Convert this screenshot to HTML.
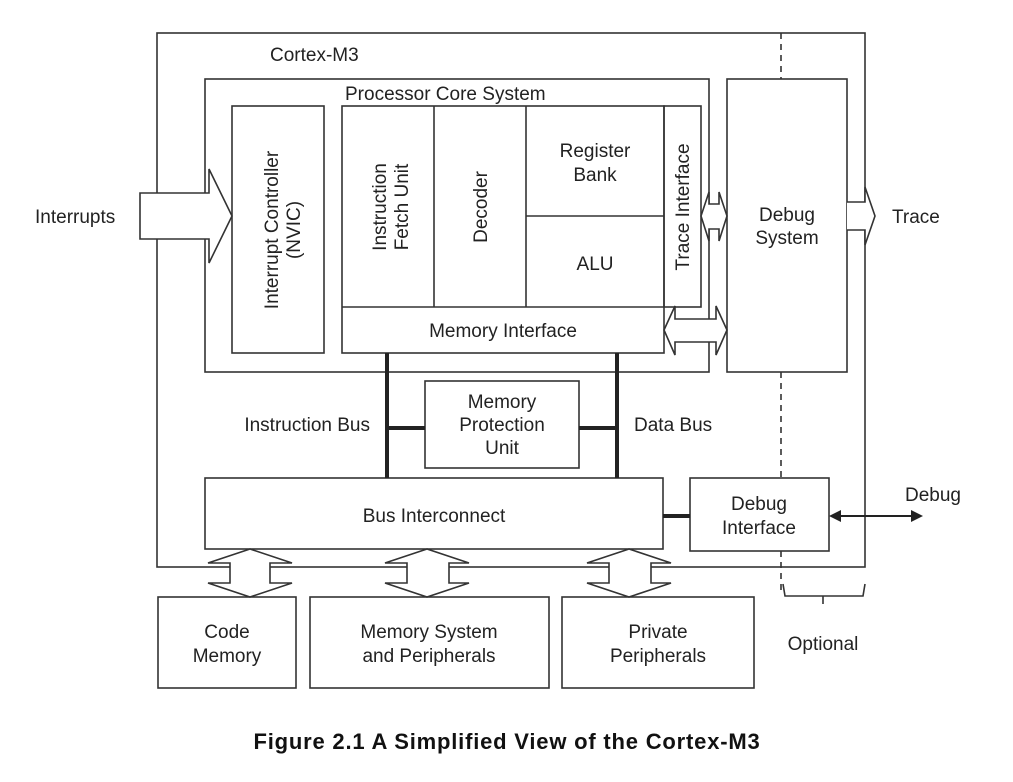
<!DOCTYPE html>
<html><head><meta charset="utf-8"><style>
body{margin:0;background:#fff}
svg text{font-family:"Liberation Sans",Arial,sans-serif;font-size:19px;fill:#222}
</style></head><body>
<svg width="1013" height="777" viewBox="0 0 1013 777" xmlns="http://www.w3.org/2000/svg">
<g fill="none" stroke="#333" stroke-width="1.6">
<rect x="157" y="33" width="708" height="534"/>
<rect x="205" y="79" width="504" height="293" fill="#fff"/>
<rect x="232" y="106" width="92" height="247"/>
<rect x="342" y="106" width="322" height="247"/>
<line x1="342" y1="307" x2="664" y2="307"/>
<line x1="434" y1="106" x2="434" y2="307"/>
<line x1="526" y1="106" x2="526" y2="307"/>
<line x1="526" y1="216" x2="664" y2="216"/>
<rect x="664" y="106" width="37" height="201"/>
<rect x="727" y="79" width="120" height="293" fill="#fff"/>
<g stroke-dasharray="6,5"><line x1="781" y1="33" x2="781" y2="79"/><line x1="781" y1="372" x2="781" y2="478"/><line x1="781" y1="551" x2="781" y2="592"/></g>
<path d="M140 193 H209 V169 L232 216 L209 263 V239 H140 Z" fill="#fff"/>
<path d="M701 216 L709 192 V204 H719 V192 L727 216 L719 241 V229 H709 V241 Z" fill="#fff"/>
<path d="M664 330 L675 306 V319 H716 V306 L727 330 L716 355 V342 H675 V355 Z" fill="#fff"/>
<path d="M847 202 H865 V187 L875 216 L865 245 V230 H847" fill="#fff"/>
<rect x="425" y="381" width="154" height="87"/>
<rect x="205" y="478" width="458" height="71" fill="#fff"/>
<rect x="690" y="478" width="139" height="73" fill="#fff"/>
<g fill="#fff" stroke="#333">
<path d="M250 549 L208 563 H230 V583 H208 L250 597 L292 583 H270 V563 H292 Z"/>
<path d="M427 549 L385 563 H407 V583 H385 L427 597 L469 583 H449 V563 H469 Z"/>
<path d="M629 549 L587 563 H609 V583 H587 L629 597 L671 583 H651 V563 H671 Z"/>
</g>
<rect x="158" y="597" width="138" height="91"/>
<rect x="310" y="597" width="239" height="91"/>
<rect x="562" y="597" width="192" height="91"/>
<path d="M783 584 L785 596 H863 L865 584 M823 596 V604"/>
</g>
<g stroke="#222" stroke-width="4">
<line x1="387" y1="353" x2="387" y2="478"/>
<line x1="617" y1="353" x2="617" y2="478"/>
<line x1="387" y1="428" x2="425" y2="428"/>
<line x1="579" y1="428" x2="617" y2="428"/>
<line x1="663" y1="516" x2="690" y2="516"/>
</g>
<line x1="838" y1="516" x2="914" y2="516" stroke="#222" stroke-width="2"/>
<path d="M829 516 L841 510 V522 Z M923 516 L911 510 V522 Z" fill="#222"/>
<text x="270" y="61">Cortex-M3</text>
<text x="345" y="100">Processor Core System</text>
<text x="35" y="223">Interrupts</text>
<text transform="translate(278 230) rotate(-90)" text-anchor="middle">Interrupt Controller</text>
<text transform="translate(300 230) rotate(-90)" text-anchor="middle">(NVIC)</text>
<text transform="translate(386 207) rotate(-90)" text-anchor="middle">Instruction</text>
<text transform="translate(408 207) rotate(-90)" text-anchor="middle">Fetch Unit</text>
<text transform="translate(487 207) rotate(-90)" text-anchor="middle">Decoder</text>
<text x="595" y="157" text-anchor="middle">Register</text>
<text x="595" y="181" text-anchor="middle">Bank</text>
<text x="595" y="270" text-anchor="middle">ALU</text>
<text transform="translate(689 207) rotate(-90)" text-anchor="middle">Trace Interface</text>
<text x="503" y="337" text-anchor="middle">Memory Interface</text>
<text x="787" y="221" text-anchor="middle">Debug</text>
<text x="787" y="244" text-anchor="middle">System</text>
<text x="892" y="223">Trace</text>
<text x="370" y="431" text-anchor="end">Instruction Bus</text>
<text x="634" y="431">Data Bus</text>
<text x="502" y="408" text-anchor="middle">Memory</text>
<text x="502" y="431" text-anchor="middle">Protection</text>
<text x="502" y="454" text-anchor="middle">Unit</text>
<text x="434" y="522" text-anchor="middle">Bus Interconnect</text>
<text x="759" y="510" text-anchor="middle">Debug</text>
<text x="759" y="534" text-anchor="middle">Interface</text>
<text x="905" y="501">Debug</text>
<text x="227" y="638" text-anchor="middle">Code</text>
<text x="227" y="662" text-anchor="middle">Memory</text>
<text x="429" y="638" text-anchor="middle">Memory System</text>
<text x="429" y="662" text-anchor="middle">and Peripherals</text>
<text x="658" y="638" text-anchor="middle">Private</text>
<text x="658" y="662" text-anchor="middle">Peripherals</text>
<text x="823" y="650" text-anchor="middle">Optional</text>
<text x="507" y="749" text-anchor="middle" style="font-weight:bold;font-size:22px;letter-spacing:0.8px;fill:#111">Figure 2.1  A Simplified View of the Cortex-M3</text>
</svg>
</body></html>
